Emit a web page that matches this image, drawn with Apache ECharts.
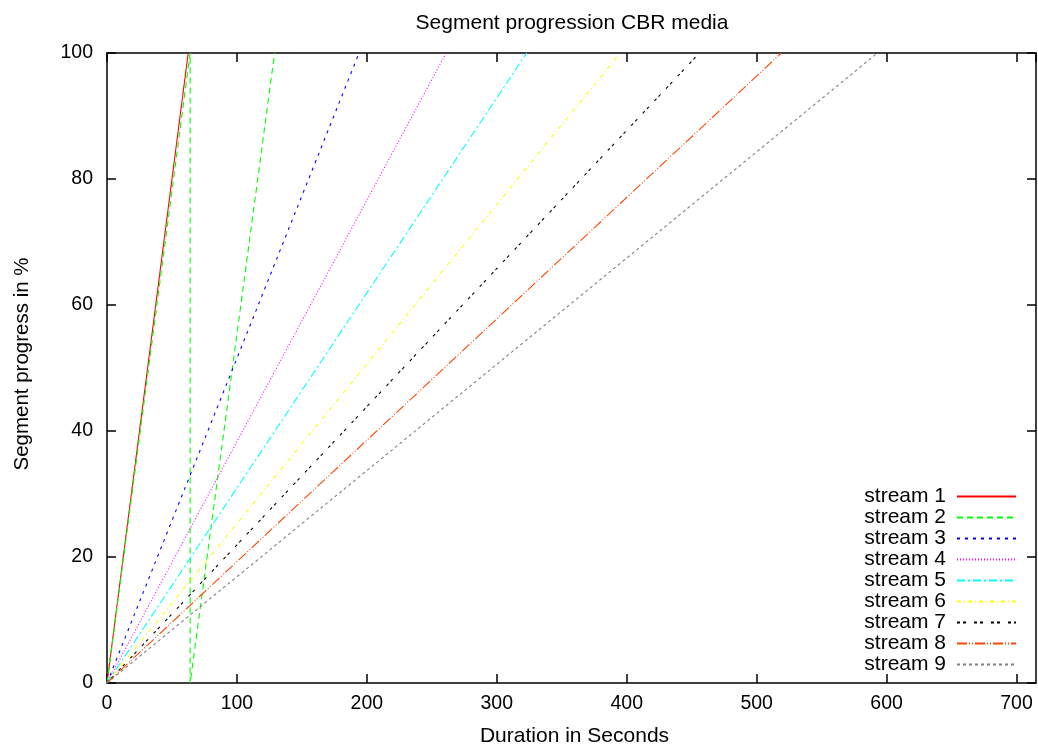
<!DOCTYPE html>
<html>
<head>
<meta charset="utf-8">
<script src="https://cdn.jsdelivr.net/npm/echarts@6/dist/echarts.min.js"></script>
<style>
html,body{margin:0;padding:0;background:#fff;}
#chart{width:1038px;height:744px;}
</style>
</head>
<body>
<div id="chart"></div>
<script>
// Data (duration seconds, progress %)
var seriesNames = ['stream 1','stream 2','stream 3','stream 4','stream 5','stream 6','stream 7','stream 8','stream 9'];
var stream1 = [[0,0],[62.5,100]];
var stream2 = [[0,0],[64,100],[64,0],[129,100]];
var stream3 = [[0,0],[194,100]];
var stream4 = [[0,0],[261,100]];
var stream5 = [[0,0],[323,100]];
var stream6 = [[0,0],[393,99.5]];
var stream7 = [[0,0],[456,100]];
var stream8 = [[0,0],[519,100]];
var stream9 = [[0,0],[593,100]];
var seriesData = [stream1,stream2,stream3,stream4,stream5,stream6,stream7,stream8,stream9];
var xTicks = [0,100,200,300,400,500,600,700];
var yTicks = [0,20,40,60,80,100];

var colors = ['#ff0000','#00ff00','#0000ff','#ff00ff','#00ffff','#ffff00','#000000','#ff4500','#808080'];
var dashes = ['solid',[6,4],[3,5],[1,2],[8,3,2,3],[4,3,1,3],[3,3,3,8],[10,2,1,2,1,2],[3,3]];

var FONT = 'Liberation Sans';
var TXT = 21;
var chart = echarts.init(document.getElementById('chart'), null, {renderer:'canvas'});

var series = seriesData.map(function(d,i){
  return {
    name: seriesNames[i], type:'line', data:d, showSymbol:false, symbol:'none',
    animation:false,
    lineStyle:{color:colors[i], width:1.1, type:dashes[i]},
    itemStyle:{color:colors[i]}
  };
});

var axisLine = {show:true, onZero:false, lineStyle:{color:'#000', width:1.5}};
var tickStyle = {show:true, inside:true, length:9, lineStyle:{color:'#000', width:1.5}};
var labelStyle = {color:'#000', fontFamily:FONT, fontSize:19.5};

chart.setOption({
  backgroundColor:'#fff',
  animation:false,
  title:{text:'Segment progression CBR media', left:567, top:8, textAlign:'center',
    textStyle:{fontFamily:FONT, fontSize:TXT, fontWeight:'normal', color:'#000'}},
  grid:{left:107, right:2, top:53, bottom:61, containLabel:false, outerBoundsMode:'none'},
  legend:{
    data:seriesNames, orient:'vertical', right:21, top:486, align:'right', padding:0,
    itemWidth:59, itemHeight:14, itemGap:0,
    itemStyle:{opacity:0},
    textStyle:{fontFamily:FONT, fontSize:TXT, color:'#000', lineHeight:21, padding:[0,6,0,0]},
    selectedMode:false
  },
  xAxis:[{
    type:'value', min:0, max:715, interval:100, position:'bottom',
    name:'Duration in Seconds', nameLocation:'middle', nameGap:43,
    nameTextStyle:{fontFamily:FONT, fontSize:TXT, color:'#000', padding:[0,0,0,6]},
    axisLine:axisLine, axisTick:tickStyle,
    axisLabel:Object.assign({margin:11, showMaxLabel:false}, labelStyle),
    splitLine:{show:false}
  },{
    type:'value', min:0, max:715, interval:100, position:'top',
    axisLine:axisLine, axisTick:tickStyle, axisLabel:{show:false}, splitLine:{show:false}
  }],
  yAxis:[{
    type:'value', min:0, max:100, interval:20, position:'left',
    name:'Segment progress in %', nameLocation:'middle', nameGap:74, nameRotate:90,
    nameTextStyle:{fontFamily:FONT, fontSize:20.5, color:'#000', padding:[0,0,0,8]},
    axisLine:axisLine, axisTick:tickStyle,
    axisLabel:Object.assign({margin:14}, labelStyle),
    splitLine:{show:false}
  },{
    type:'value', min:0, max:100, interval:20, position:'right',
    axisLine:axisLine, axisTick:tickStyle, axisLabel:{show:false}, splitLine:{show:false}
  }],
  series: series
});
</script>
</body>
</html>
